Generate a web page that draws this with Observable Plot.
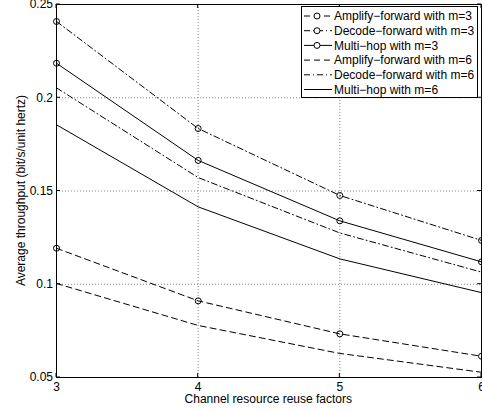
<!DOCTYPE html>
<html><head><meta charset="utf-8">
<script src="https://cdn.jsdelivr.net/npm/d3@7"></script>
<script src="https://cdn.jsdelivr.net/npm/@observablehq/plot@0.6"></script>
<style>body{margin:0;background:#fff;} #chart svg{display:block;}</style>
</head><body><div id="chart"></div>
<script>
const reuseFactors = [3, 4, 5, 6];
const afM3 = [0.1193, 0.0911, 0.0734, 0.0614];
const dfM3 = [0.2409, 0.1835, 0.1476, 0.1235];
const mhM3 = [0.2185, 0.1664, 0.1340, 0.1120];
const afM6 = [0.1004, 0.0779, 0.0629, 0.0528];
const dfM6 = [0.2053, 0.1572, 0.1275, 0.1065];
const mhM6 = [0.1855, 0.1415, 0.1136, 0.0955];
const seriesNames = [
  "Amplify\u2212forward with m=3",
  "Decode\u2212forward with m=3",
  "Multi\u2212hop with m=3",
  "Amplify\u2212forward with m=6",
  "Decode\u2212forward with m=6",
  "Multi\u2212hop with m=6"
];
const xTicks = [3, 4, 5, 6];
const yTicks = [0.05, 0.1, 0.15, 0.2, 0.25];
const yTickLabels = ["0.05", "0.1", "0.15", "0.2", "0.25"];
const xLabel = "Channel resource reuse factors";
const yLabel = "Average throughput (bit/s/unit hertz)";

const valueSets = [afM3, dfM3, mhM3, afM6, dfM6, mhM6];
const dashes = ["6,4", "6,3,1,3", null, "6,4", "6,3,1,3", null];
const hasMarker = [true, true, true, false, false, false];

const series = seriesNames.map((name, k) => ({name, values: valueSets[k], dash: dashes[k], marker: hasMarker[k]}));
const rows = series.flatMap(s => reuseFactors.map((x, i) => ({x, y: s.values[i], name: s.name})));

const font = "'Liberation Sans', Arial, Helvetica, sans-serif";

const plot = Plot.plot({
  width: 482, height: 411,
  marginLeft: 56, marginRight: 1, marginTop: 4, marginBottom: 34,
  style: {fontFamily: font, fontSize: "12px", color: "black", background: "white", overflow: "visible"},
  x: {domain: [3, 6], label: null},
  y: {domain: [0.05, 0.25], label: null},
  marks: [
    Plot.gridX([4, 5], {stroke: "#888", strokeOpacity: 1, strokeDasharray: "1,2"}),
    Plot.gridY([0.1, 0.15, 0.2], {stroke: "#888", strokeOpacity: 1, strokeDasharray: "1,2"}),
    ...series.map(s => Plot.line(rows.filter(r => r.name === s.name), {x: "x", y: "y", stroke: "black", strokeWidth: 1, strokeDasharray: s.dash ?? undefined})),
    ...series.filter(s => s.marker).map(s => Plot.dot(rows.filter(r => r.name === s.name), {x: "x", y: "y", r: 3, stroke: "black", fill: "none", strokeWidth: 1})),
    Plot.frame({stroke: "black", strokeWidth: 1}),
    Plot.axisX(xTicks, {anchor: "bottom", tickSize: 0, tickPadding: 4.5, tickFormat: d => String(d), label: null, fill: "black"}),
    Plot.axisY(yTicks, {anchor: "left", tickSize: 0, tickPadding: 3.5, tickFormat: d => yTickLabels[yTicks.indexOf(d)], label: null, fill: "black"})
  ]
});
document.getElementById("chart").appendChild(plot);

const svg = d3.select(plot);
const sx = plot.scale("x"), sy = plot.scale("y");
const [x0, x1] = sx.range, [y0, y1] = sy.range; // y0 bottom, y1 top
const tk = 4;
const tg = svg.append("g").attr("stroke", "black").attr("stroke-width", 1);
xTicks.forEach(v => {
  const px = sx.apply(v);
  tg.append("line").attr("x1", px).attr("x2", px).attr("y1", y0).attr("y2", y0 - tk);
  tg.append("line").attr("x1", px).attr("x2", px).attr("y1", y1).attr("y2", y1 + tk);
});
yTicks.forEach(v => {
  const py = sy.apply(v);
  tg.append("line").attr("x1", x0).attr("x2", x0 + tk).attr("y1", py).attr("y2", py);
  tg.append("line").attr("x1", x1).attr("x2", x1 - tk).attr("y1", py).attr("y2", py);
});

svg.append("text").attr("x", 268.3).attr("y", 403).attr("text-anchor", "middle")
  .attr("font-family", font).attr("font-size", 12).attr("fill", "black").text(xLabel);
svg.append("text").attr("transform", "translate(24.5,190.5) rotate(-90)").attr("text-anchor", "middle")
  .attr("font-family", font).attr("font-size", 12).attr("fill", "black").text(yLabel);

// legend
const lg = svg.append("g");
lg.append("rect").attr("x", 301.5).attr("y", 6.5).attr("width", 176).attr("height", 91)
  .attr("fill", "white").attr("stroke", "black").attr("stroke-width", 1);
series.forEach((s, k) => {
  const cy = 16 + k * 14.7;
  lg.append("line").attr("x1", 304).attr("x2", 332).attr("y1", cy).attr("y2", cy)
    .attr("stroke", "black").attr("stroke-width", 1).attr("stroke-dasharray", s.dash);
  if (s.marker) lg.append("circle").attr("cx", 317).attr("cy", cy).attr("r", 3)
    .attr("fill", "white").attr("stroke", "black");
  lg.append("text").attr("x", 334).attr("y", cy).attr("dy", "0.35em").attr("text-anchor", "start")
    .attr("font-family", font).attr("font-size", 12).attr("fill", "black").text(s.name);
});
</script>
</body></html>
